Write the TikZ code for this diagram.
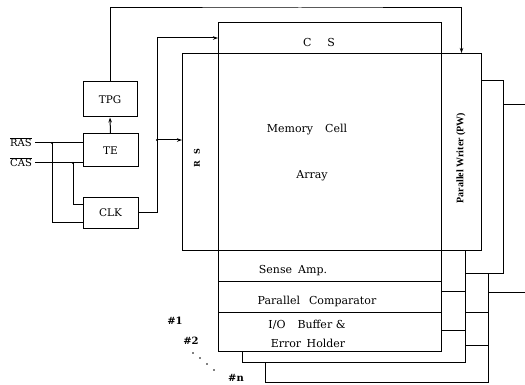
\documentclass[tikz,border=0pt]{standalone}
\usepackage{fontspec}
\setmainfont{DejaVu Serif}
\newfontfamily\pwfont{Liberation Serif}
\usetikzlibrary{arrows.meta}
\begin{document}
\begin{tikzpicture}[x=1pt,y=-1pt,line width=1pt,
  box/.style={draw,inner sep=0pt,font=\fontsize{10.5}{12}\selectfont},
  blk/.style={draw,fill=white,inner sep=0pt,anchor=north west},
  tip/.style={-{Stealth[length=5pt,width=3.5pt]}},
  lbl/.style={inner sep=0pt,font=\fontsize{11}{13}\selectfont},
  tag/.style={inner sep=0pt,font=\bfseries\fontsize{10}{12}\selectfont},
  jdot/.style={circle,fill,inner sep=0pt,minimum size=2.2pt}]
\useasboundingbox (0,0) rectangle (525,385);

% control boxes
\node[box,minimum width=54pt,minimum height=35pt] (tpg) at (110,99.5) {TPG};
\node[box,minimum width=55pt,minimum height=33pt] (te) at (110.5,150.5) {TE};
\node[box,minimum width=55pt,minimum height=31pt] (clk) at (110.5,212.5) {CLK};
\node[inner sep=1pt,font=\fontsize{10}{11}\selectfont] (ras) at (21,142) {$\overline{\mbox{RAS}}$};
\node[inner sep=1pt,font=\fontsize{10}{11}\selectfont] (cas) at (21,162) {$\overline{\mbox{CAS}}$};

% layer #n (back)
\node[blk,minimum width=223pt,minimum height=109pt] (ln) at (265,273) {};
\draw ([yshift=-39pt]ln.north west) -- ([yshift=-39pt]ln.north east);
\draw ([yshift=-72pt]ln.north west) -- ([yshift=-72pt]ln.north east);

% layer #2
\node[blk,minimum width=38pt,minimum height=193pt] (pw2) at (465,80) {};
\node[blk,minimum width=223pt,minimum height=112pt] (l2) at (242,250) {};
\draw ([yshift=-41pt]l2.north west) -- ([yshift=-41pt]l2.north east);
\draw ([yshift=-80pt]l2.north west) -- ([yshift=-80pt]l2.north east);

% layer #1 (front)
\node[blk,minimum width=223pt,minimum height=31pt] (cs) at (218,22) {};
\node[blk,minimum width=36pt,minimum height=197pt] (rs) at (182,53) {};
\node[blk,minimum width=223pt,minimum height=197pt] (arr) at (218,53) {};
\node[blk,minimum width=40pt,minimum height=197pt] (pw) at (441,53) {};
\node[blk,minimum width=223pt,minimum height=31pt] (sa) at (218,250) {};
\node[blk,minimum width=223pt,minimum height=31pt] (pc) at (218,281) {};
\node[blk,minimum width=223pt,minimum height=39pt] (io) at (218,312) {};

% texts
\node[lbl] (cstxt) at (319,42) {C\hspace{16pt}S};
\node[inner sep=0pt,rotate=90,font=\bfseries\fontsize{8}{10}\selectfont] (rstxt) at (197,158) {R\hspace{7pt}S};
\node[lbl] (mc) at (307,130) {Memory\hspace{12pt}Cell};
\node[lbl] (ay) at (312,176) {Array};
\node[inner sep=0pt,rotate=90,font=\pwfont\bfseries\fontsize{10}{12}\selectfont] (pwtxt) at (461,158) {Parallel Writer (PW)};
\node[lbl] (satxt) at (293,271) {Sense\hspace{6pt}Amp.};
\node[lbl] (pctxt) at (317,301) {Parallel\hspace{9pt}Comparator};
\node[lbl] (iotxt) at (307,325) {I/O\hspace{12pt}Buffer \&};
\node[lbl] (ehtxt) at (308,343) {Error\hspace{2pt} Holder};
\node[tag] (n1) at (175,321) {\#1};
\node[tag] (n2) at (191,341) {\#2};
\node[tag] (nn) at (236,378) {\#n};
\foreach \p in {(193,353),(200,358),(207,364),(214,370)} \fill \p circle (0.8pt);

% connectors
\coordinate (rasj) at (52,143);
\coordinate (casj) at (73,163);
\draw ([xshift=2pt]ras.east |- rasj) -- (te.west |- rasj);
\draw ([xshift=2pt]cas.east |- casj) -- (te.west |- casj);
\draw (rasj) |- ([yshift=-9.5pt]clk.west);
\draw (casj) |- ([yshift=8.5pt]clk.west);
\node[jdot] at (rasj) {};
\node[jdot] at (casj) {};
\draw[tip] (te.north) -- (tpg.south);
\coordinate (toprail) at (300,8);
\draw[tip] (tpg.north) |- (toprail) -| (pw.north);
\coordinate (clkup) at (157,38);
\coordinate (rsj) at (157,140);
\draw[tip] (clk.east) -| (clkup) -- (cs.west |- clkup);
\draw[tip] (rsj) -- (rs.west |- rsj);
\node[jdot] at (rsj) {};
\coordinate (out1) at (525,105);
\coordinate (out2) at (525,292);
\draw (pw2.east |- out1) -- (out1);
\draw (ln.east |- out2) -- (out2);
\end{tikzpicture}
\end{document}
